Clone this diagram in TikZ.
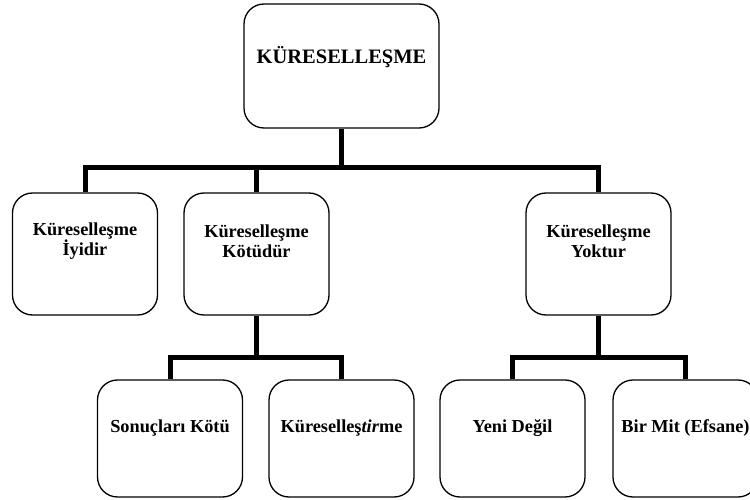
\documentclass[tikz,border=0pt]{standalone}
\usepackage{fontspec}
\setmainfont{Liberation Serif}
\begin{document}
\begin{tikzpicture}[x=1pt,y=-1pt,
  box/.style={draw=black,line width=1.3pt,rounded corners=20pt,fill=white,inner sep=0pt},
  lev1/.style={box,minimum width=195pt,minimum height=124pt},
  lev2/.style={box,minimum width=145pt,minimum height=122pt},
  lev3/.style={box,minimum width=145pt,minimum height=117pt},
  lbl/.style={font=\bfseries\fontsize{18.3}{20}\selectfont,align=center,inner sep=0pt},
  biglbl/.style={font=\bfseries\fontsize{20.5}{23}\selectfont,align=center,inner sep=0pt},
  conn/.style={line width=5pt,line cap=rect}]
\useasboundingbox (0,0) rectangle (750,500);
\clip (0,0) rectangle (750,500);
% boxes
\node[lev1] (top) at (341.5,66) {};
\node[lev2] (k1) at (85,254) {};
\node[lev2] (k2) at (256.5,254) {};
\node[lev2] (k3) at (598.5,254) {};
\node[lev3] (s1) at (170,438.5) {};
\node[lev3] (s2) at (341.5,438.5) {};
\node[lev3] (s3) at (512.5,438.5) {};
\node[lev3] (s4) at (685.5,438.5) {};
% texts
\node[biglbl] (ttop) at ([yshift=9pt]top.center) {KÜRESELLEŞME};
\node[lbl] (tk1) at ([yshift=13pt]k1.center) {Küreselleşme\\İyidir};
\node[lbl] (tk2) at ([yshift=13pt]k2.center) {Küreselleşme\\Kötüdür};
\node[lbl] (tk3) at ([yshift=13pt]k3.center) {Küreselleşme\\Yoktur};
\node[lbl] (ts1) at ([yshift=10pt]s1.center) {Sonuçları Kötü};
\node[lbl] (ts2) at ([yshift=10pt]s2.center) {Küreselleş\textit{tir}me};
\node[lbl] (ts3) at ([yshift=10pt]s3.center) {Yeni Değil};
\node[lbl] (ts4) at ([yshift=10pt]s4.center) {Bir Mit (Efsane)};
% buses
\coordinate (bus1) at (0,168);
\coordinate (bus2) at (0,357);
\draw[line width=5pt] (top.south) -- (top.south |- bus1);
\draw[conn] (k1.north |- bus1) -- (k3.north |- bus1);
\draw[line width=5pt] (k1.north |- bus1) -- (k1.north);
\draw[line width=5pt] (k2.north |- bus1) -- (k2.north);
\draw[line width=5pt] (k3.north |- bus1) -- (k3.north);
\draw[line width=5pt] (k2.south) -- (k2.south |- bus2);
\draw[conn] (s1.north |- bus2) -- (s2.north |- bus2);
\draw[line width=5pt] (s1.north |- bus2) -- (s1.north);
\draw[line width=5pt] (s2.north |- bus2) -- (s2.north);
\draw[line width=5pt] (k3.south) -- (k3.south |- bus2);
\draw[conn] (s3.north |- bus2) -- (s4.north |- bus2);
\draw[line width=5pt] (s3.north |- bus2) -- (s3.north);
\draw[line width=5pt] (s4.north |- bus2) -- (s4.north);
\end{tikzpicture}
\end{document}
